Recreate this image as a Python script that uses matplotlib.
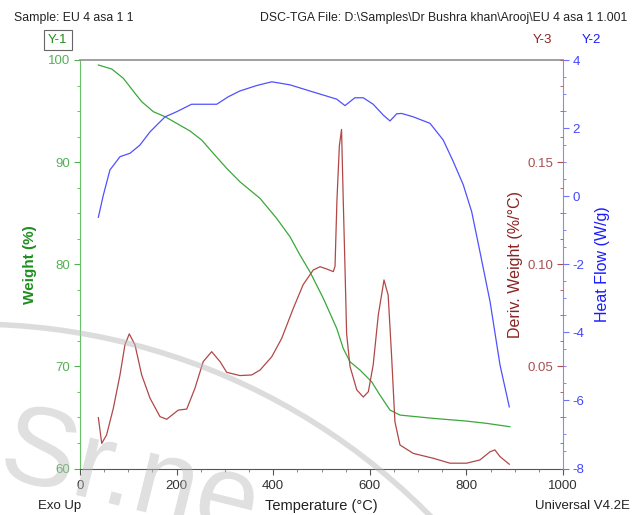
import matplotlib
matplotlib.use('Agg')
import matplotlib.pyplot as plt
from matplotlib.ticker import MultipleLocator, FixedLocator
from matplotlib.patches import Arc, PathPatch
from matplotlib.textpath import TextPath
from matplotlib.font_manager import FontProperties
from matplotlib.transforms import Affine2D

plt.rcParams['font.family'] = ['Liberation Sans', 'DejaVu Sans']
plt.rcParams['axes.unicode_minus'] = False

W, H = 632, 515

# Weight (%) vs temperature
w_temp = [38, 65.6, 89.7, 113.9, 127.7, 151.8, 176, 200, 227.7, 252, 276, 303.7,
          331, 372.7, 407, 434.8, 455.5, 476, 503.8, 531.5, 545, 559, 579.7,
          603.9, 621, 641.8, 662.5, 731.5, 800.6, 842, 890]
w_val = [99.51, 99.12, 98.21, 96.74, 95.92, 94.94, 94.45, 93.80, 93.05, 92.16,
         90.86, 89.39, 88.08, 86.45, 84.50, 82.69, 80.90, 79.26, 76.66, 73.72,
         71.76, 70.45, 69.64, 68.49, 67.19, 65.72, 65.23, 64.91, 64.64, 64.42, 64.09]

# Heat flow (W/g)
hf_temp = [38, 48.3, 62, 82.8, 103.5, 124, 145, 176, 200, 231, 283, 307, 331,
           365.8, 397, 434.8, 469, 503.7, 531.5, 548.6, 569, 586.5, 607, 628,
           641.8, 655.7, 666, 690, 724.6, 752, 773, 793.6, 811, 828, 849, 869.6, 888.8]
hf_val = [-0.62, 0.03, 0.77, 1.16, 1.26, 1.50, 1.89, 2.33, 2.48, 2.70, 2.70, 2.92,
          3.09, 3.25, 3.36, 3.27, 3.12, 2.97, 2.85, 2.66, 2.89, 2.89, 2.70, 2.38,
          2.21, 2.42, 2.43, 2.33, 2.14, 1.65, 1.01, 0.33, -0.46, -1.63, -3.10,
          -4.96, -6.19]

# Deriv. weight (%/°C)
dw_temp = [38, 45, 55, 69, 82.8, 93, 102, 113.9, 127.7, 145, 165.6, 179.5, 203.5,
           221, 238, 255, 272.6, 290, 303.7, 331, 355.5, 372.7, 397, 417.6, 441.6,
           462, 483, 497, 510.7, 524.4, 528, 532, 537, 541.5, 545, 548.6, 552,
           559, 573, 586.5, 597, 607, 617.6, 629.4, 638, 645, 652, 662.5, 690,
           731.5, 766, 800.6, 828, 849, 859, 869.6, 888.8]
dw_val = [0.0249, 0.0123, 0.0164, 0.0295, 0.0458, 0.0605, 0.0659, 0.0605, 0.0458,
          0.0344, 0.0254, 0.0241, 0.0286, 0.0291, 0.0393, 0.0523, 0.0572, 0.0523,
          0.0471, 0.0455, 0.0458, 0.0482, 0.0547, 0.0637, 0.0784, 0.0900, 0.0972,
          0.0988, 0.0977, 0.0964, 0.0990, 0.1315, 0.1580, 0.1660, 0.1315, 0.0988,
          0.0660, 0.0500, 0.0385, 0.0350, 0.0376, 0.0507, 0.0752, 0.0923, 0.0849,
          0.0556, 0.0229, 0.0115, 0.0074, 0.0050, 0.0026, 0.0026, 0.0042, 0.0082,
          0.0091, 0.0058, 0.0021]

GREEN, GREEN_T = '#1f8f1f', '#55b055'
BLUE, BLUE_T = '#1a1aff', '#4444ff'
BROWN, BROWN_T = '#8b2323', '#a85050'

fig = plt.figure(figsize=(W / 100, H / 100), dpi=100)
ax = fig.add_axes([80 / W, 1 - 468.5 / H, 483 / W, 408.5 / H])
ax.patch.set_alpha(0)
ax2 = ax.twinx()
ax3 = ax.twinx()

ax.plot(w_temp, w_val, color='#3aa83a', lw=0.9)
ax2.plot(hf_temp, hf_val, color='#5050ff', lw=0.9)
ax3.plot(dw_temp, dw_val, color='#b04848', lw=0.9)

ax.set_xlim(0, 1000)
ax.set_ylim(60, 100)
ax2.set_ylim(-8, 4)
ax3.set_ylim(0, 0.2)

# x axis
ax.xaxis.set_major_locator(MultipleLocator(200))
ax.xaxis.set_minor_locator(MultipleLocator(50))
ax.tick_params(axis='x', which='major', direction='out', length=4, pad=4,
               labelsize=9.5, colors='#555555', labelcolor='#333333')
ax.tick_params(axis='x', which='minor', direction='out', length=2.5, colors='#777777')
ax.set_xlabel('Temperature (°C)', fontsize=10.5, color='#222222')
ax.xaxis.set_label_coords(0.5, -0.075)

# Y-1 weight
ax.yaxis.set_major_locator(MultipleLocator(10))
ax.yaxis.set_minor_locator(MultipleLocator(2.5))
ax.tick_params(axis='y', which='both', direction='out', colors=GREEN_T,
               labelcolor=GREEN_T, labelsize=9.5, pad=3)
ax.tick_params(axis='y', which='major', length=4)
ax.tick_params(axis='y', which='minor', length=2.5)
ax.set_ylabel('Weight (%)', fontsize=11, color=GREEN, fontweight='bold')
ax.yaxis.set_label_coords(-0.088, 0.5)

# Y-2 heat flow
ax2.yaxis.set_major_locator(MultipleLocator(2))
ax2.yaxis.set_minor_locator(MultipleLocator(0.5))
ax2.tick_params(axis='y', which='both', direction='out', colors='#7070ff',
                labelcolor=BLUE_T, labelsize=9.5, pad=3)
ax2.tick_params(axis='y', which='major', length=4)
ax2.tick_params(axis='y', which='minor', length=2.5)
ax2.set_ylabel('Heat Flow (W/g)', fontsize=11.5, color=BLUE)
ax2.yaxis.set_label_coords(1.066, 0.5)

# Y-3 derivative, ticks inside the right spine
ax3.yaxis.set_major_locator(FixedLocator([0.05, 0.10, 0.15]))
ax3.yaxis.set_minor_locator(MultipleLocator(0.0125))
ax3.set_yticklabels(['0.05', '0.10', '0.15'])
ax3.tick_params(axis='y', which='both', direction='in', colors=BROWN_T,
                labelcolor=BROWN_T, labelsize=9.5, pad=-7)
ax3.tick_params(axis='y', which='major', length=4)
ax3.tick_params(axis='y', which='minor', length=2.5)
for lbl in ax3.get_yticklabels():
    lbl.set_horizontalalignment('right')
ax3.set_ylabel('Deriv. Weight (%/°C)', fontsize=11.5, color=BROWN)
ax3.yaxis.set_label_coords(0.886, 0.5)

for a in (ax, ax2, ax3):
    for s in a.spines.values():
        s.set_visible(False)
ax.spines['left'].set_visible(True)
ax.spines['left'].set_color('#66c266')
ax.spines['bottom'].set_visible(True)
ax.spines['bottom'].set_color('#555555')
ax.spines['top'].set_visible(True)
ax.spines['top'].set_color('#999999')
ax.spines['top'].set_linewidth(1.3)
ax2.spines['right'].set_visible(True)
ax2.spines['right'].set_color('#8888ff')

# header / footer texts
fig.text(14 / W, 1 - 18 / H, 'Sample: EU 4 asa 1 1', ha='left', va='center',
         fontsize=8.8, color='#222222')
fig.text(627 / W, 1 - 18 / H,
         r'DSC-TGA File: D:\Samples\Dr Bushra khan\Arooj\EU 4 asa 1 1.001',
         ha='right', va='center', fontsize=8.8, color='#222222')
fig.text(58 / W, 1 - 40 / H, 'Y-1', ha='center', va='center', fontsize=9.5,
         color=GREEN, bbox=dict(boxstyle='square,pad=0.3', fc='white',
                                ec='#666666', lw=0.8))
fig.text(542 / W, 1 - 40 / H, 'Y-3', ha='center', va='center', fontsize=9.5,
         color=BROWN)
fig.text(591 / W, 1 - 40 / H, 'Y-2', ha='center', va='center', fontsize=9.5,
         color=BLUE)
fig.text(38 / W, 1 - 506 / H, 'Exo Up', ha='left', va='center', fontsize=9.5,
         color='#222222')
fig.text(630 / W, 1 - 506 / H, 'Universal V4.2E', ha='right', va='center',
         fontsize=9.5, color='#222222')

# faint watermark on top (drawn as paths, not text)
wm = fig.add_axes([0, 0, 1, 1])
wm.set_xlim(0, W)
wm.set_ylim(0, H)
wm.axis('off')
wm.add_patch(Arc((-28, -452), 2 * 643, 2 * 643, theta1=40, theta2=97,
                 color='#bbbbbb', lw=4, alpha=0.5))
tp = TextPath((0, 0), 'Sr.ne', size=112,
              prop=FontProperties(family='Liberation Sans'))
tp = Affine2D().rotate_deg(-14).translate(-4, 40).transform_path(tp)
wm.add_patch(PathPatch(tp, fc='#bbbbbb', ec='none', alpha=0.45))

fig.savefig('out.png', dpi=100)
